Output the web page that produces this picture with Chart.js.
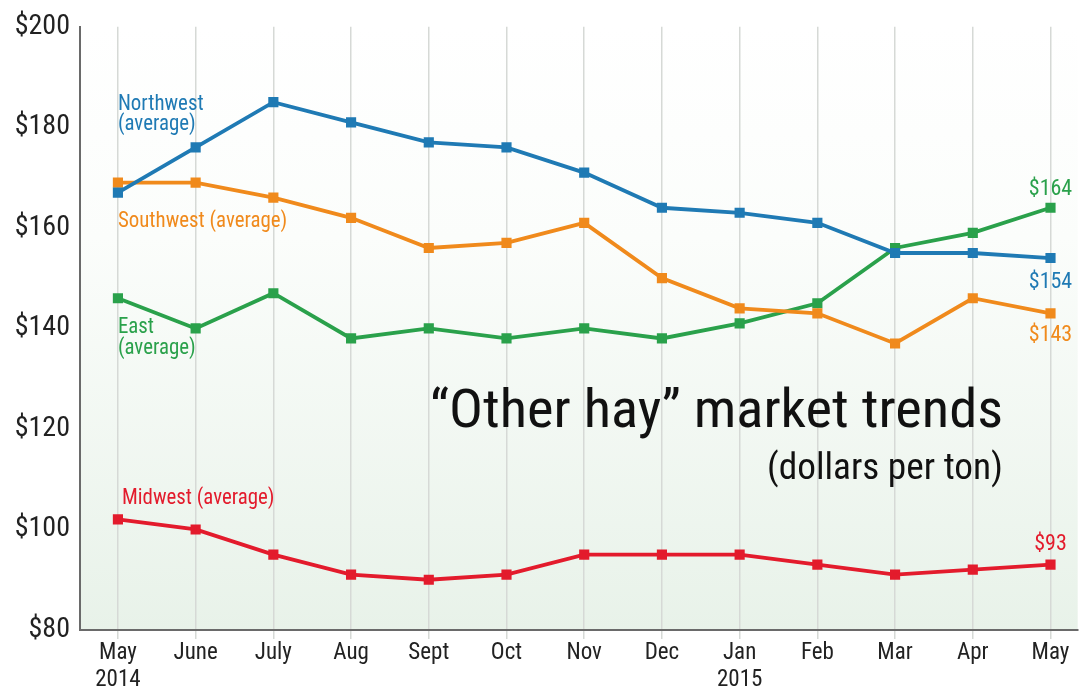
<!DOCTYPE html>
<html><head><meta charset="utf-8">
<script src="https://cdn.jsdelivr.net/npm/chart.js@4/dist/chart.umd.min.js"></script>
<style>html,body{margin:0;padding:0;background:#fff;}#wrap{width:1086px;height:687px;}</style>
</head><body><div id="wrap"><canvas id="c" width="1086" height="687"></canvas></div>
<script>
const months = [["May","2014"],"June","July","Aug","Sept","Oct","Nov","Dec",["Jan","2015"],"Feb","Mar","Apr","May"];
const northwest = [167,176,185,181,177,176,171,164,163,161,155,155,154];
const southwest = [169,169,166,162,156,157,161,150,144,143,137,146,143];
const east      = [146,140,147,138,140,138,140,138,141,145,156,159,164];
const midwest   = [102,100,95,91,90,91,95,95,95,93,91,92,93];
const yTicks = [80,100,120,140,160,180,200];
const seriesNames = ["Northwest (average)","Southwest (average)","East (average)","Midwest (average)"];

const FONT = "'Liberation Sans Narrow','Roboto Condensed','DejaVu Sans Condensed',sans-serif";
const colors = {nw:'#1f7ab4', sw:'#f08a1c', e:'#2aa14b', mw:'#e31b2c'};
const toPts = arr => arr.map((v,i)=>({x:i,y:v}));

const bgPlugin = {
  id:'bg',
  beforeDraw(chart){
    const {ctx, chartArea:a} = chart;
    const g = ctx.createLinearGradient(0,a.top,0,a.bottom);
    g.addColorStop(0,'#ffffff');
    g.addColorStop(0.35,'#fbfdfb');
    g.addColorStop(1,'#e8f2e9');
    ctx.save(); ctx.fillStyle=g; ctx.fillRect(a.left,a.top,a.right-a.left,a.bottom-a.top); ctx.restore();
  }
};

function txt(ctx, s, x, y, size, color, align, scaleX){
  ctx.save();
  ctx.font = size+'px '+FONT;
  ctx.fillStyle = color;
  ctx.textBaseline='middle';
  ctx.textAlign = align||'left';
  ctx.translate(x,y);
  ctx.scale(scaleX||1,1);
  ctx.fillText(s, 0, 0);
  ctx.restore();
}

const labelPlugin = {
  id:'labels',
  afterDatasetsDraw(chart){
    const ctx = chart.ctx;
    const xs = chart.scales.x, ys = chart.scales.y;
    const X = i => xs.getPixelForValue(i), Y = v => ys.getPixelForValue(v);
    const last = months.length-1;
    const S = 22, SX = 0.95;
    txt(ctx,'Northwest', X(0), Y(184.5), S, colors.nw, 'left', SX);
    txt(ctx,'(average)', X(0), Y(180.6), S, colors.nw, 'left', SX);
    txt(ctx,'Southwest (average)', X(0), Y(161.3), S, colors.sw, 'left', SX);
    txt(ctx,'East', X(0), Y(140.2), S, colors.e, 'left', SX);
    txt(ctx,'(average)', X(0), Y(136.1), S, colors.e, 'left', SX);
    txt(ctx,'Midwest (average)', X(0)+4, Y(106.2), S, colors.mw, 'left', SX);
    txt(ctx,'$'+east[last], X(last), Y(east[last])-18, 22, colors.e, 'center');
    txt(ctx,'$'+northwest[last], X(last), Y(northwest[last])+24, 22, colors.nw, 'center');
    txt(ctx,'$'+southwest[last], X(last), Y(southwest[last])+22, 22, colors.sw, 'center');
    txt(ctx,'$'+midwest[last], X(last), Y(midwest[last])-20, 22, colors.mw, 'center');
    // title
    ctx.save();
    ctx.font = '54px '+FONT;
    ctx.fillStyle='#111';
    ctx.textBaseline='middle';
    const t = '\u201COther hay\u201D market trends';
    const w = ctx.measureText(t).width;
    ctx.translate(1003, 413);
    ctx.scale(573/w, 1);
    ctx.textAlign='right';
    ctx.fillText(t, 0, 0);
    ctx.restore();
    ctx.save();
    ctx.font = '36px '+FONT;
    ctx.fillStyle='#111';
    ctx.textBaseline='middle';
    const t2 = '(dollars per ton)';
    const w2 = ctx.measureText(t2).width;
    ctx.translate(1003, 470);
    ctx.scale(236/w2, 1);
    ctx.textAlign='right';
    ctx.fillText(t2, 0, 0);
    ctx.restore();
  }
};

const ds = (label, data, color) => ({
  label, data: toPts(data), borderColor: color, backgroundColor: color,
  borderWidth: 3.8, pointStyle:'rect', pointRadius: 4.5, pointHoverRadius:4.5, tension:0, fill:false
});

new Chart(document.getElementById('c'), {
  type:'line',
  data:{ datasets:[
    ds(seriesNames[0], northwest, colors.nw),
    ds(seriesNames[1], southwest, colors.sw),
    ds(seriesNames[2], east, colors.e),
    ds(seriesNames[3], midwest, colors.mw)
  ]},
  options:{
    responsive:false, animation:false, devicePixelRatio:1,
    layout:{padding:{top:22,right:0,left:0,bottom:0}},
    plugins:{legend:{display:false}, tooltip:{enabled:false}},
    scales:{
      x:{
        type:'linear', min:-0.488, max:12.35,
        afterBuildTicks(s){ s.ticks = months.map((_,i)=>({value:i})); },
        afterFit(s){ s.height = 57; },
        ticks:{ callback:(v)=>months[v], color:'#222', font:{family:FONT,size:23}, padding:0, maxRotation:0, autoSkip:false },
        grid:{ color:'#d6d9d6', lineWidth:1.5, drawTicks:true, tickLength:9 },
        border:{ color:'#6a6a6a', width:2 }
      },
      y:{
        min:80, max:200,
        afterBuildTicks(s){ s.ticks = yTicks.map(v=>({value:v})); },
        afterFit(s){ s.width = 80; },
        ticks:{ callback:v=>'$'+v, color:'#222', font:{family:FONT,size:28}, padding:10 },
        grid:{ display:false, drawTicks:false },
        border:{ color:'#6a6a6a', width:2 }
      }
    }
  },
  plugins:[bgPlugin, labelPlugin]
});
</script></body></html>
